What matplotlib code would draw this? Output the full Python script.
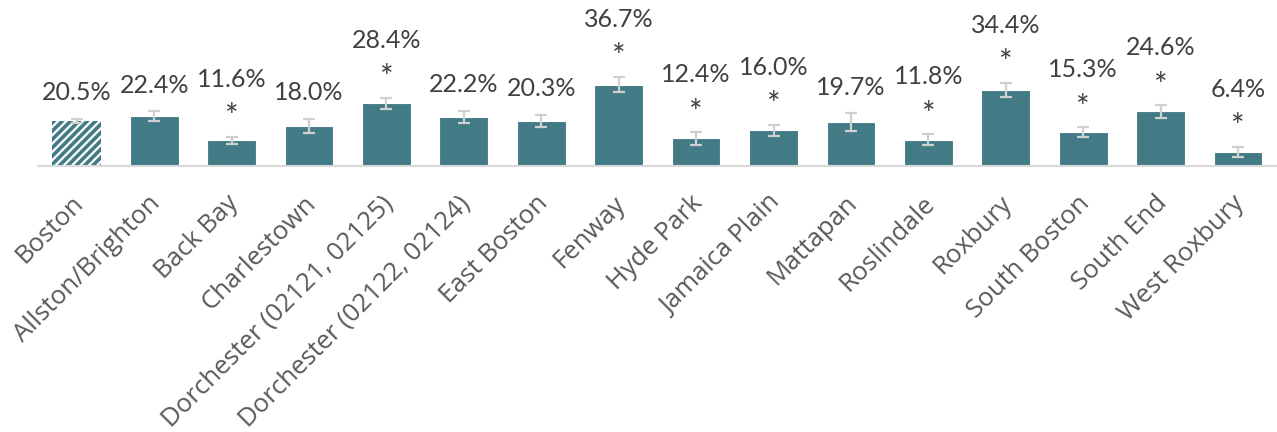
import matplotlib.pyplot as plt
import matplotlib.transforms as mtransforms
import numpy as np

# ---------------------------------------------------------------------------
# Data
# ---------------------------------------------------------------------------
neighborhoods = [
    "Boston", "Allston/Brighton", "Back Bay", "Charlestown",
    "Dorchester (02121, 02125)", "Dorchester (02122, 02124)", "East Boston",
    "Fenway", "Hyde Park", "Jamaica Plain", "Mattapan", "Roslindale",
    "Roxbury", "South Boston", "South End", "West Roxbury",
]
pct = [20.5, 22.4, 11.6, 18.0, 28.4, 22.2, 20.3, 36.7,
       12.4, 16.0, 19.7, 11.8, 34.4, 15.3, 24.6, 6.4]
err = [0.9, 2.3, 1.6, 3.3, 2.5, 2.6, 2.9, 3.5,
       2.8, 2.5, 4.0, 2.4, 3.3, 2.1, 2.8, 2.3]
significant = [False, False, True, False, True, False, False, True,
               True, True, False, True, True, True, True, True]

BAR_COLOR = "#427B85"
ERR_COLOR = "#D0D0D0"
LABEL_COLOR = "#404040"
TICK_COLOR = "#595959"

plt.rcParams["hatch.linewidth"] = 2.6

fig = plt.figure(figsize=(12.77, 4.32), dpi=100)
ax = fig.add_axes([0.0298, 0.616, 0.970, 0.384])

x = np.arange(len(neighborhoods))
bars = ax.bar(x, pct, width=0.63, color=BAR_COLOR, edgecolor="white",
              linewidth=0.8, zorder=2)

# Boston (city-wide) bar is hatched
bars[0].set_facecolor("white")
bars[0].set_edgecolor(BAR_COLOR)
bars[0].set_hatch("////")
bars[0].set_linewidth(0)

ax.errorbar(x, pct, yerr=err, fmt="none", ecolor=ERR_COLOR,
            elinewidth=1.6, capsize=4.3, capthick=1.6, zorder=3)

# value labels above the error bars, asterisk = significant vs. Boston
for xi, v, e, sig in zip(x, pct, err, significant):
    top = v + e
    ax.annotate(f"{v:.1f}%", xy=(xi, top), xytext=(0, 36 if sig else 13.5),
                textcoords="offset points", ha="center", va="baseline",
                fontsize=18, color=LABEL_COLOR, family="Lato")
    if sig:
        ax.annotate("*", xy=(xi, top), xytext=(0, 7),
                    textcoords="offset points", ha="center", va="baseline",
                    fontsize=23, color=LABEL_COLOR, family="Lato")

ax.set_xlim(-0.5, len(neighborhoods) - 0.5)
ax.set_ylim(0, 75)
ax.set_yticks([])
ax.set_xticks(x)
ax.set_xticklabels(neighborhoods, rotation=45, ha="right",
                   rotation_mode="anchor", fontsize=18.5, color=TICK_COLOR,
                   family="Open Sans")
ax.tick_params(axis="x", length=0, pad=18)

# nudge the rotated labels a little to the left
shift = mtransforms.ScaledTranslation(-6 / 100, 0, fig.dpi_scale_trans)
for lab in ax.get_xticklabels():
    lab.set_transform(lab.get_transform() + shift)

for side in ["top", "right", "left"]:
    ax.spines[side].set_visible(False)
ax.spines["bottom"].set_color("#D9D9D9")
ax.spines["bottom"].set_linewidth(1.5)

fig.savefig("out.png", dpi=100, facecolor="white")
